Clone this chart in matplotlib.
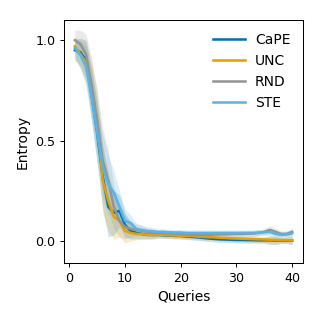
import matplotlib
matplotlib.use("Agg")
import matplotlib.pyplot as plt
import numpy as np

queries = list(range(1, 41))
series_names = ["CaPE", "UNC", "RND", "STE"]
colors = ["#0173B2", "#E69F00", "#949494", "#56B4E9"]

cape = [0.95,0.94,0.90,0.73,0.54,0.32,0.17,0.14,0.15,0.08,0.05,0.04,0.035,0.03,0.03,0.03,0.028,0.027,0.025,0.025,
        0.022,0.02,0.018,0.015,0.012,0.01,0.008,0.007,0.006,0.005,0.005,0.004,0.004,0.003,0.003,0.003,0.002,0.002,0.002,0.002]
unc = [0.97,0.93,0.89,0.76,0.60,0.30,0.20,0.12,0.10,0.05,0.04,0.035,0.035,0.03,0.03,0.03,0.03,0.028,0.027,0.026,
       0.025,0.024,0.022,0.02,0.019,0.018,0.016,0.015,0.013,0.012,0.011,0.01,0.009,0.008,0.007,0.006,0.005,0.004,0.004,0.003]
rnd = [1.0,0.98,0.93,0.78,0.60,0.40,0.30,0.17,0.10,0.07,0.06,0.055,0.05,0.045,0.04,0.04,0.04,0.038,0.037,0.035,
       0.033,0.03,0.03,0.03,0.03,0.032,0.033,0.033,0.034,0.035,0.035,0.036,0.037,0.04,0.045,0.055,0.045,0.035,0.035,0.045]
ste = [0.96,0.925,0.87,0.72,0.54,0.37,0.28,0.24,0.17,0.10,0.09,0.06,0.055,0.05,0.048,0.045,0.045,0.043,0.042,0.042,
       0.04,0.04,0.04,0.04,0.04,0.04,0.04,0.04,0.04,0.04,0.04,0.04,0.04,0.042,0.043,0.045,0.035,0.03,0.032,0.038]

spread = [0.05,0.07,0.10,0.13,0.15,0.16,0.15,0.11,0.08,0.06,0.04,0.03,0.025,0.02,0.02,0.015,0.015,0.015,0.015,0.015,
          0.015,0.015,0.015,0.015,0.015,0.015,0.015,0.015,0.015,0.015,0.015,0.015,0.015,0.015,0.015,0.02,0.02,0.015,0.015,0.02]

DPI = 319 / 3.5
fig = plt.figure(figsize=(3.5, 3.5), dpi=DPI)
ax = fig.add_axes([0.2006, 0.1755, 0.7494, 0.7615])

for name, vals, c in zip(series_names, [cape, unc, rnd, ste], colors):
    v = np.array(vals)
    s = np.array(spread)
    ax.fill_between(queries, v - s, v + s, color=c, alpha=0.2, linewidth=0)
    ax.plot(queries, v, color=c, linewidth=2, label=name)

ax.set_xlim(-0.95, 41.95)
ax.set_ylim(-0.11, 1.1)
ax.set_xticks([0, 10, 20, 30, 40])
ax.set_yticks([0.0, 0.5, 1.0])
ax.tick_params(labelsize=10)
ax.set_xlabel("Queries", fontsize=11)
ax.set_ylabel("Entropy", fontsize=11)
ax.legend(loc="upper right", frameon=False, fontsize=11, labelspacing=0.5,
          handlelength=2.3, handletextpad=0.7)
fig.savefig("out.png", dpi=DPI)
